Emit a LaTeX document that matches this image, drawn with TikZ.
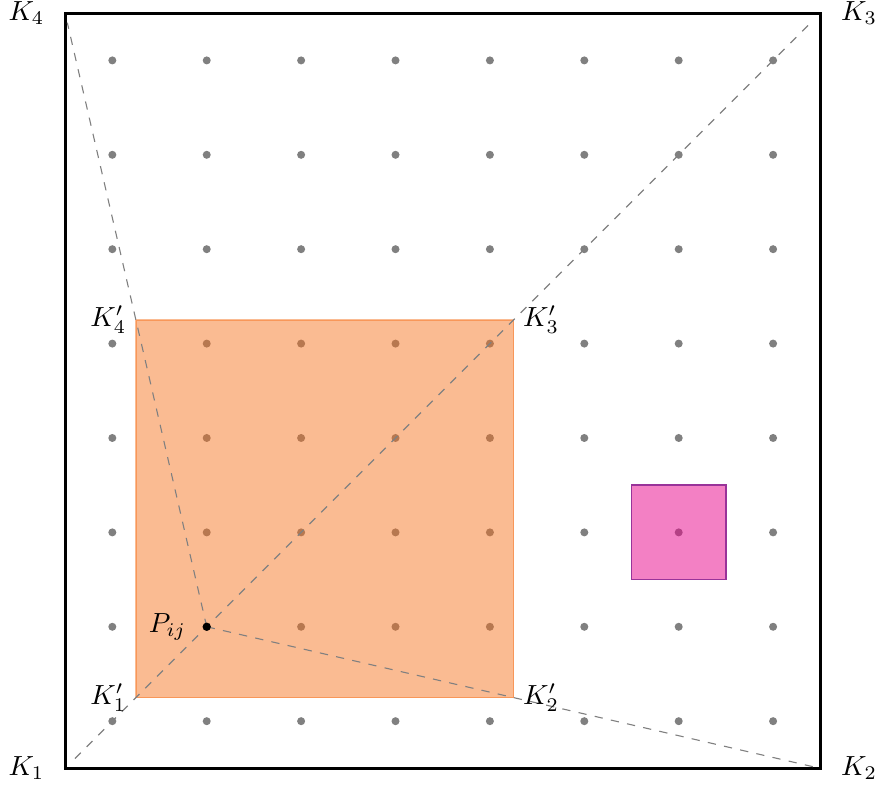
\documentclass[tikz,border=0pt]{standalone}
\usepackage{amsmath}
\definecolor{cellorange}{RGB}{245,112,28}
\definecolor{cellpink}{RGB}{232,2,138}
\begin{document}
\begin{tikzpicture}[x=1.2cm,y=1.2cm,gridpt/.style={fill=gray},outerbox/.style={draw=black,line width=1.1pt},guide/.style={draw=gray,dashed,line width=0.4pt,shorten <=5pt,shorten >=4pt},patch/.style={fill=cellorange,draw=cellorange,opacity=0.48,line width=0.5pt},target/.style={fill=cellpink,fill opacity=0.5,draw=violet!80,line width=0.5pt},lbl/.style={inner sep=3.3pt}]
\useasboundingbox (-0.69,-0.2) rectangle (8.59,8.14);
\coordinate (K1) at (0,0); \coordinate (K2) at (8,0); \coordinate (K3) at (8,8); \coordinate (K4) at (0,8);
\coordinate (k1) at (0.75,0.75); \coordinate (k2) at (4.75,0.75); \coordinate (k3) at (4.75,4.75); \coordinate (k4) at (0.75,4.75);
\coordinate (P) at (1.5,1.5);
% grid of sample points
\foreach \i in {0,...,7} \foreach \j in {0,...,7} \fill[gridpt] (\i+0.5,\j+0.5) circle (1.45pt);
\filldraw[patch] (k1) rectangle (k3);
\filldraw[target] (6,2) rectangle (7,3);
\draw[outerbox] (K1) rectangle (K3);
\draw[guide] (K1) -- (K3); \draw[guide,shorten <=0pt,shorten >=3.5pt] (P) -- (K4); \draw[guide,shorten <=0pt,shorten >=2pt] (P) -- (K2);
\fill[black] (P) circle (1.5pt);
\node[lbl,left=4pt] (l1) at (K1) {$K_1$}; \node[lbl,right=4pt] (l2) at (K2) {$K_2$};
\node[lbl,right=4pt] (l3) at (K3) {$K_3$}; \node[lbl,left=4pt] (l4) at (K4) {$K_4$};
\node[lbl,left=0pt] (m1) at (k1) {$K'_1$}; \node[lbl,right=0pt] (m2) at (k2) {$K'_2$};
\node[lbl,right=0pt] (m3) at (k3) {$K'_3$}; \node[lbl,left=0pt] (m4) at (k4) {$K'_4$};
\node[lbl,left=4pt] (pl) at (P) {$P_{ij}$};
\end{tikzpicture}
\end{document}
